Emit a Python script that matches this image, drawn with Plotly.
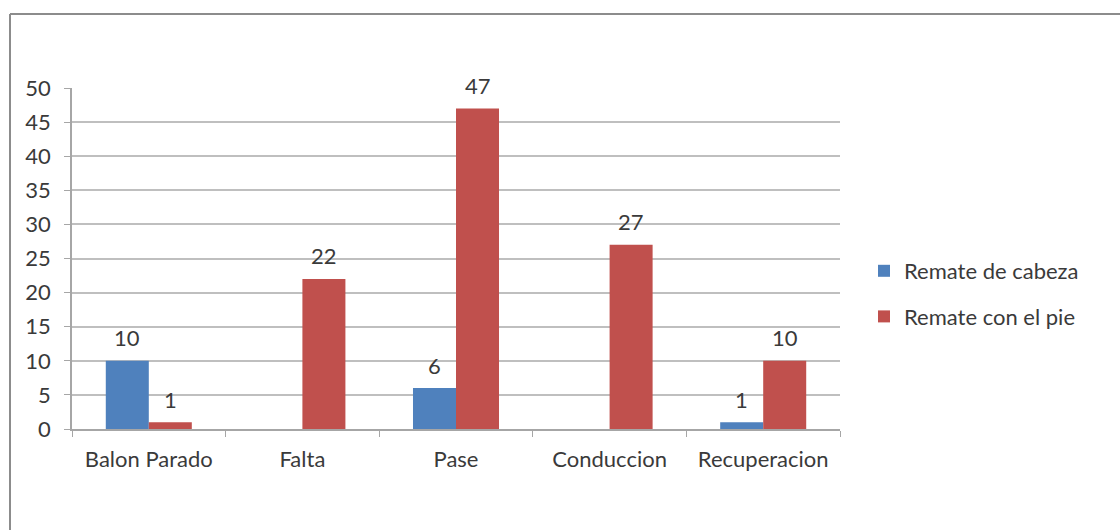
import plotly.graph_objects as go

categories = ["Balon Parado", "Falta", "Pase", "Conduccion", "Recuperacion"]
cabeza = [10, None, 6, None, 1]
pie = [1, 22, 47, 27, 10]
y_ticks = [0, 5, 10, 15, 20, 25, 30, 35, 40, 45, 50]

BLUE = "#4F81BD"
RED = "#C0504D"
TEXT = "#3A3A3A"
FONT = "Lato"
FSIZE = 22

# plot area geometry (px) used for the group offsets of the value labels
PLOT_L, PLOT_R, PLOT_T, PLOT_B = 72, 840, 88, 429
BARGAP = 0.44
cat_px = (PLOT_R - PLOT_L) / len(categories)
bar_px = cat_px * (1 - BARGAP) / 2

fig = go.Figure()
fig.add_bar(
    x=categories, y=cabeza, name="Remate de cabeza", legendgroup="a",
    marker=dict(color=BLUE, line=dict(width=0)),
)
fig.add_bar(
    x=categories, y=pie, name="Remate con el pie", legendgroup="b",
    marker=dict(color=RED, line=dict(width=0)),
)

# value labels above each bar
for values, shift in ((cabeza, -bar_px / 2), (pie, bar_px / 2)):
    for cat, v in zip(categories, values):
        if v is None:
            continue
        fig.add_annotation(
            x=cat, y=v, text=str(v), showarrow=False,
            xshift=shift, yshift=23, yanchor="middle",
            font=dict(family=FONT, size=FSIZE, color=TEXT),
        )

fig.update_layout(
    width=1120, height=530,
    margin=dict(l=PLOT_L, r=1120 - PLOT_R, t=PLOT_T, b=530 - PLOT_B),
    paper_bgcolor="white", plot_bgcolor="white",
    barmode="group", bargap=BARGAP, bargroupgap=0,
    font=dict(family=FONT, size=FSIZE, color=TEXT),
    showlegend=True,
    legend=dict(
        x=(864 - PLOT_L) / (PLOT_R - PLOT_L), y=(PLOT_B - 294) / (PLOT_B - PLOT_T),
        xanchor="left", yanchor="middle",
        font=dict(family=FONT, size=FSIZE, color=TEXT),
        itemwidth=30, tracegroupgap=14,
        bgcolor="rgba(0,0,0,0)",
    ),
)
fig.update_xaxes(
    showline=True, linecolor="#A6A6A6", linewidth=1.5,
    ticks="outside", tickson="boundaries", ticklen=6, tickcolor="#A6A6A6",
    tickfont=dict(family=FONT, size=FSIZE, color=TEXT),
    ticklabelstandoff=10,
    showgrid=False,
)
fig.update_yaxes(
    range=[0, 50], tickvals=y_ticks,
    showline=True, linecolor="#A6A6A6", linewidth=1.5,
    ticks="outside", ticklen=6, tickcolor="#A6A6A6",
    showgrid=True, gridcolor="#BFBFBF", gridwidth=1.5,
    zeroline=False,
    tickfont=dict(family=FONT, size=FSIZE, color=TEXT),
    ticklabelstandoff=9,
)

# chart-area frame (top and left edges)
h = PLOT_B - PLOT_T
w = PLOT_R - PLOT_L
fig.add_shape(type="line", xref="paper", yref="paper",
              x0=(10 - PLOT_L) / w, x1=(1125 - PLOT_L) / w,
              y0=(PLOT_B - 14) / h, y1=(PLOT_B - 14) / h,
              line=dict(color="#8C8C8C", width=2))
fig.add_shape(type="line", xref="paper", yref="paper",
              x0=(10 - PLOT_L) / w, x1=(10 - PLOT_L) / w,
              y0=(PLOT_B - 14) / h, y1=(PLOT_B - 535) / h,
              line=dict(color="#8C8C8C", width=2))

fig.write_html("out.html")
